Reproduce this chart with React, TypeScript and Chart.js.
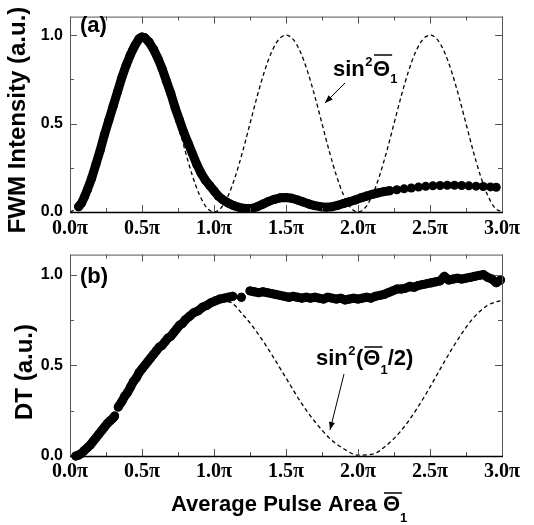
import { useEffect, useRef } from 'react';
import { Chart, registerables } from 'chart.js';

Chart.register(...registerables);

// ---------- axis ticks ----------
const X_TICKS = [0, 0.5, 1, 1.5, 2, 2.5, 3];
const X_MINOR = [0.25, 0.75, 1.25, 1.75, 2.25, 2.75];
const Y_TICKS = [0, 0.5, 1];
const Y_MINOR = [0.25, 0.75];

// ---------- panel (a): theory sin^2(theta) ----------
const THEORY_A_X = [
  0, 0.05, 0.1, 0.15, 0.2, 0.25, 0.3, 0.35, 0.4, 0.45,
  0.5, 0.55, 0.6, 0.65, 0.7, 0.75, 0.8, 0.85, 0.9, 0.95,
  1.0, 1.05, 1.1, 1.15, 1.2, 1.25, 1.3, 1.35, 1.4, 1.45,
  1.5, 1.55, 1.6, 1.65, 1.7, 1.75, 1.8, 1.85, 1.9, 1.95,
  2.0, 2.05, 2.1, 2.15, 2.2, 2.25, 2.3, 2.35, 2.4, 2.45,
  2.5, 2.55, 2.6, 2.65, 2.7, 2.75, 2.8, 2.85, 2.9, 2.95,
  3.0,
];
const THEORY_A_Y = [
  0, 0.024, 0.095, 0.206, 0.345, 0.5, 0.655, 0.794, 0.905, 0.976,
  1, 0.976, 0.905, 0.794, 0.655, 0.5, 0.345, 0.206, 0.095, 0.024,
  0, 0.024, 0.095, 0.206, 0.345, 0.5, 0.655, 0.794, 0.905, 0.976,
  1, 0.976, 0.905, 0.794, 0.655, 0.5, 0.345, 0.206, 0.095, 0.024,
  0, 0.024, 0.095, 0.206, 0.345, 0.5, 0.655, 0.794, 0.905, 0.976,
  1, 0.976, 0.905, 0.794, 0.655, 0.5, 0.345, 0.206, 0.095, 0.024,
  0,
];

// ---------- panel (a): measured FWM intensity ----------
const FWM_X = [
  0.06, 0.08, 0.10, 0.12, 0.15, 0.18, 0.21, 0.24, 0.27, 0.30,
  0.33, 0.36, 0.39, 0.42, 0.45, 0.48, 0.50, 0.52, 0.55, 0.58,
  0.61, 0.64, 0.67, 0.70, 0.73, 0.76, 0.79, 0.82, 0.85, 0.88,
  0.91, 0.94, 0.97, 1.00, 1.03, 1.06, 1.10, 1.14, 1.18, 1.22,
  1.26, 1.30, 1.34, 1.38, 1.42, 1.46, 1.50, 1.54, 1.58, 1.62,
  1.66, 1.70, 1.74, 1.78, 1.82, 1.86, 1.90, 1.94, 1.98, 2.02,
  2.06, 2.10, 2.14, 2.18, 2.22, 2.27, 2.32, 2.37, 2.42, 2.47,
  2.52, 2.57, 2.62, 2.67, 2.72, 2.77, 2.82, 2.87, 2.92, 2.96,
];
const FWM_Y = [
  0.03, 0.05, 0.085, 0.125, 0.19, 0.27, 0.35, 0.44, 0.52, 0.60,
  0.68, 0.76, 0.83, 0.89, 0.94, 0.98, 0.99, 0.985, 0.96, 0.92,
  0.87, 0.81, 0.74, 0.67, 0.59, 0.52, 0.45, 0.39, 0.33, 0.27,
  0.22, 0.18, 0.15, 0.12, 0.09, 0.07, 0.05, 0.035, 0.025, 0.02,
  0.02, 0.03, 0.045, 0.06, 0.072, 0.08, 0.082, 0.078, 0.068, 0.056,
  0.045, 0.036, 0.03, 0.027, 0.03, 0.038, 0.048, 0.058, 0.068, 0.08,
  0.09, 0.10, 0.108, 0.115, 0.12, 0.126, 0.131, 0.136, 0.141, 0.145,
  0.148, 0.15, 0.151, 0.151, 0.15, 0.148, 0.146, 0.144, 0.142, 0.14,
];

// ---------- panel (b): theory sin^2(theta/2) ----------
const THEORY_B_X = [
  0, 0.1, 0.2, 0.3, 0.4, 0.5, 0.6, 0.7, 0.8, 0.9,
  1.0, 1.1, 1.2, 1.3, 1.4, 1.5, 1.6, 1.7, 1.8, 1.9,
  2.0, 2.1, 2.2, 2.3, 2.4, 2.5, 2.6, 2.7, 2.8, 2.9,
  3.0,
];
const THEORY_B_Y = [
  0, 0.02, 0.10, 0.20, 0.32, 0.46, 0.58, 0.68, 0.76, 0.82,
  0.85, 0.85, 0.78, 0.68, 0.56, 0.43, 0.30, 0.19, 0.10, 0.04,
  0.005, 0.01, 0.06, 0.14, 0.25, 0.38, 0.52, 0.65, 0.76, 0.83,
  0.86,
];

// ---------- panel (b): measured DT ----------
const DT_X = [
  0.04, 0.06, 0.08, 0.10, 0.12, 0.14, 0.16, 0.18, 0.20, 0.22,
  0.24, 0.26, 0.28, 0.30, 0.31, 0.32, 0.335, 0.36, 0.38, 0.40,
  0.42, 0.44, 0.46, 0.48, 0.50, 0.52, 0.54, 0.56, 0.58, 0.60,
  0.62, 0.64, 0.66, 0.68, 0.70, 0.72, 0.74, 0.76, 0.78, 0.80,
  0.83, 0.86, 0.89, 0.92, 0.95, 0.98, 1.01, 1.04, 1.07, 1.10,
  1.13, 1.16, 1.19, 1.22, 1.25, 1.28, 1.31, 1.34, 1.37, 1.40,
  1.43, 1.46, 1.49, 1.52, 1.55, 1.58, 1.61, 1.64, 1.67, 1.70,
  1.73, 1.76, 1.79, 1.82, 1.85, 1.88, 1.91, 1.94, 1.97, 2.00,
  2.03, 2.06, 2.09, 2.12, 2.15, 2.18, 2.21, 2.24, 2.27, 2.30,
  2.33, 2.36, 2.39, 2.42, 2.45, 2.48, 2.51, 2.54, 2.57, 2.60,
  2.63, 2.66, 2.69, 2.72, 2.75, 2.78, 2.81, 2.84, 2.87, 2.90,
  2.93, 2.96, 2.99,
];
const DT_Y = [
  0.0, 0.005, 0.015, 0.03, 0.045, 0.06, 0.08, 0.10, 0.12, 0.14,
  0.16, 0.18, 0.195, 0.21, 0.22, null, 0.27, 0.30, 0.33, 0.35,
  0.38, 0.41, 0.43, 0.46, 0.48, 0.50, 0.52, 0.54, 0.56, 0.58,
  0.60, 0.61, 0.63, 0.65, 0.66, 0.68, 0.70, 0.72, 0.73, 0.75,
  0.77, 0.79, 0.80, 0.82, 0.83, 0.845, 0.855, 0.865, 0.87, 0.875,
  0.88, null, 0.875, null, 0.91, 0.905, 0.90, 0.905, 0.90, 0.895,
  0.89, 0.885, 0.88, 0.875, 0.88, 0.875, 0.87, 0.875, 0.87, 0.875,
  0.87, 0.865, 0.875, 0.87, 0.865, 0.87, 0.86, 0.865, 0.87, 0.865,
  0.87, 0.875, 0.87, 0.88, 0.885, 0.89, 0.90, 0.91, 0.92, 0.92,
  0.925, 0.935, 0.93, 0.94, 0.945, 0.95, 0.955, 0.96, 0.965, 0.99,
  0.97, 0.975, 0.98, 0.975, 0.98, 0.985, 0.99, 0.995, 1.0, 0.985,
  0.975, 0.955, 0.97,
];

const SANS = '"Liberation Sans", Arial, sans-serif';
const SERIF = '"Liberation Serif", "Times New Roman", serif';

const pts = (xs: number[], ys: (number | null)[]) => xs.map((x, i) => ({ x, y: ys[i] }));

function arrow(ctx: CanvasRenderingContext2D, x1: number, y1: number, x2: number, y2: number) {
  ctx.beginPath();
  ctx.moveTo(x1, y1);
  ctx.lineTo(x2, y2);
  ctx.lineWidth = 1;
  ctx.strokeStyle = '#000';
  ctx.stroke();
  const a = Math.atan2(y2 - y1, x2 - x1);
  const L = 8, W = 3;
  ctx.beginPath();
  ctx.moveTo(x2, y2);
  ctx.lineTo(x2 - L * Math.cos(a) + W * Math.sin(a), y2 - L * Math.sin(a) - W * Math.cos(a));
  ctx.lineTo(x2 - L * Math.cos(a) - W * Math.sin(a), y2 - L * Math.sin(a) + W * Math.cos(a));
  ctx.closePath();
  ctx.fillStyle = '#000';
  ctx.fill();
}

// draws overlined Theta with subscript 1, returns x after
function theta1(ctx: CanvasRenderingContext2D, x: number, base: number, size: number, subSize: number, subDy: number, barDy: number) {
  ctx.font = `bold ${size}px ${SANS}`;
  ctx.fillText('Θ', x, base);
  const w = ctx.measureText('Θ').width;
  ctx.font = `bold ${subSize}px ${SANS}`;
  ctx.fillText('1', x + w, base + subDy);
  const sw = ctx.measureText('1').width;
  ctx.beginPath();
  ctx.moveTo(x + 1, base - barDy);
  ctx.lineTo(x + w + 2, base - barDy);
  ctx.lineWidth = 1.5;
  ctx.strokeStyle = '#000';
  ctx.stroke();
  return x + w + sw;
}

function makeDecor(draw: (ctx: CanvasRenderingContext2D) => void) {
  return {
    id: 'decor',
    afterDraw(chart: any) {
      const { ctx, chartArea, scales } = chart;
      const { left, right, top, bottom } = chartArea;
      const xs = scales.x, ys = scales.y;
      ctx.save();
      ctx.strokeStyle = '#555';
      ctx.lineWidth = 1;
      ctx.strokeRect(left + 0.5, top + 0.5, right - left, bottom - top);
      ctx.beginPath();
      const xt = (vals: number[], len: number) => vals.forEach((v) => {
        const p = Math.round(xs.getPixelForValue(v)) + 0.5;
        ctx.moveTo(p, bottom); ctx.lineTo(p, bottom - len);
        ctx.moveTo(p, top); ctx.lineTo(p, top + len);
      });
      const yt = (vals: number[], len: number) => vals.forEach((v) => {
        const p = Math.round(ys.getPixelForValue(v)) + 0.5;
        ctx.moveTo(left, p); ctx.lineTo(left + len, p);
        ctx.moveTo(right, p); ctx.lineTo(right - len, p);
      });
      xt(X_TICKS, 7); xt(X_MINOR, 4); yt(Y_TICKS, 7); yt(Y_MINOR, 4);
      ctx.stroke();
      ctx.beginPath();
      ctx.strokeStyle = '#000';
      ctx.lineWidth = 1.5;
      ctx.moveTo(left, bottom + 0.5); ctx.lineTo(right + 1, bottom + 0.5);
      ctx.stroke();
      ctx.fillStyle = '#000';
      ctx.textAlign = 'left';
      ctx.textBaseline = 'alphabetic';
      draw(ctx);
      ctx.restore();
    },
  };
}

function baseOptions(yMax: number, padTop: number, xHeight: number, labelPad: number) {
  return {
    responsive: false,
    animation: false as const,
    events: [] as any[],
    layout: { padding: { left: 0, right: 32, top: padTop, bottom: 0 } },
    plugins: { legend: { display: false }, tooltip: { enabled: false } },
    scales: {
      x: {
        type: 'linear' as const,
        min: 0,
        max: 3,
        afterBuildTicks: (s: any) => { s.ticks = X_TICKS.map((v) => ({ value: v })); },
        afterFit: (s: any) => { s.height = xHeight; },
        grid: { display: false, drawTicks: false },
        border: { display: false },
        ticks: {
          callback: (v: any) => `${Number(v).toFixed(1)}π`,
          font: { family: SERIF, weight: 'bold' as const, size: 20 },
          color: '#000',
          padding: labelPad,
          maxRotation: 0,
          autoSkip: false,
        },
      },
      y: {
        type: 'linear' as const,
        min: 0,
        max: yMax,
        afterBuildTicks: (s: any) => { s.ticks = Y_TICKS.map((v) => ({ value: v })); },
        afterFit: (s: any) => { s.width = 70; },
        grid: { display: false, drawTicks: false },
        border: { display: false },
        ticks: {
          callback: (v: any) => Number(v).toFixed(1),
          font: { family: SANS, weight: 'bold' as const, size: 16 },
          color: '#000',
          padding: 7,
        },
      },
    },
  };
}

export default function App() {
  const topRef = useRef<HTMLCanvasElement>(null);
  const botRef = useRef<HTMLCanvasElement>(null);

  useEffect(() => {
    const decorTop = makeDecor((ctx) => {
      ctx.font = `bold 22px ${SANS}`;
      ctx.fillText('(a)', 80, 32);
      // y title
      ctx.save();
      ctx.translate(25, 120);
      ctx.rotate(-Math.PI / 2);
      ctx.textAlign = 'center';
      ctx.font = `bold 24px ${SANS}`;
      ctx.fillText('FWM Intensity (a.u.)', 0, 0);
      ctx.restore();
      // annotation
      ctx.font = `bold 22px ${SANS}`;
      ctx.fillText('sin', 333, 76);
      let x = 333 + ctx.measureText('sin').width + 0.5;
      ctx.font = `bold 13px ${SANS}`;
      ctx.fillText('2', x, 66);
      x += ctx.measureText('2').width + 0.5;
      theta1(ctx, x, 76, 22, 13, 7, 21);
      arrow(ctx, 345, 83, 325, 103);
    });

    const decorBot = makeDecor((ctx) => {
      ctx.font = `bold 22px ${SANS}`;
      ctx.fillText('(b)', 80, 45);
      ctx.save();
      ctx.translate(32, 134);
      ctx.rotate(-Math.PI / 2);
      ctx.textAlign = 'center';
      ctx.font = `bold 24px ${SANS}`;
      ctx.fillText('DT (a.u.)', 0, 0);
      ctx.restore();
      // annotation sin^2(theta/2)
      const b = 127;
      ctx.font = `bold 22px ${SANS}`;
      ctx.fillText('sin', 316, b);
      let x = 316 + ctx.measureText('sin').width + 0.5;
      ctx.font = `bold 13px ${SANS}`;
      ctx.fillText('2', x, b - 10);
      x += ctx.measureText('2').width + 0.5;
      ctx.font = `bold 22px ${SANS}`;
      ctx.fillText('(', x, b);
      x += ctx.measureText('(').width;
      x = theta1(ctx, x, b, 22, 13, 9, 18);
      ctx.font = `bold 22px ${SANS}`;
      ctx.fillText('/2)', x, b);
      arrow(ctx, 344, 136, 330, 192);
      // x title
      const tb = 273;
      ctx.font = `bold 22px ${SANS}`;
      ctx.fillText('Average Pulse Area ', 171, tb);
      const tx = 171 + ctx.measureText('Average Pulse Area ').width;
      theta1(ctx, tx, tb, 22, 13, 11, 18);
    });

    const top = new Chart(topRef.current as HTMLCanvasElement, {
      type: 'scatter',
      data: {
        datasets: [
          {
            data: pts(FWM_X, FWM_Y),
            showLine: true,
            borderColor: '#000',
            borderWidth: 9,
            borderCapStyle: 'round',
            borderJoinStyle: 'round',
            pointRadius: 4.5,
            pointBackgroundColor: '#000',
            pointBorderWidth: 0,
            segment: { borderColor: (c: any) => (c.p0.parsed.x >= 2.2 ? 'rgba(0,0,0,0)' : '#000') },
            order: 0,
            clip: 8,
          } as any,
          {
            data: pts(THEORY_A_X, THEORY_A_Y),
            showLine: true,
            borderColor: '#000',
            borderWidth: 1.3,
            borderDash: [4, 3],
            pointRadius: 0,
            cubicInterpolationMode: 'monotone',
            order: 1,
          } as any,
        ],
      },
      options: baseOptions(1.105, 5, 26, 5) as any,
      plugins: [decorTop],
    });

    const bot = new Chart(botRef.current as HTMLCanvasElement, {
      type: 'scatter',
      data: {
        datasets: [
          {
            data: pts(DT_X, DT_Y),
            showLine: true,
            spanGaps: false,
            borderColor: '#000',
            borderWidth: 9,
            borderCapStyle: 'round',
            borderJoinStyle: 'round',
            pointRadius: 4.5,
            pointBackgroundColor: '#000',
            pointBorderWidth: 0,
            order: 0,
            clip: 8,
          } as any,
          {
            data: pts(THEORY_B_X, THEORY_B_Y),
            showLine: true,
            borderColor: '#000',
            borderWidth: 1.3,
            borderDash: [4, 3],
            pointRadius: 0,
            cubicInterpolationMode: 'monotone',
            order: 1,
          } as any,
        ],
      },
      options: baseOptions(1.11, 10, 69, 4) as any,
      plugins: [decorBot],
    });

    return () => {
      top.destroy();
      bot.destroy();
    };
  }, []);

  return (
    <div style={{ position: 'absolute', left: 0, top: 0, width: 534, height: 525, background: '#fff' }}>
      <canvas ref={topRef} width={534} height={238} style={{ position: 'absolute', left: 0, top: 0 }} />
      <canvas ref={botRef} width={534} height={287} style={{ position: 'absolute', left: 0, top: 238 }} />
    </div>
  );
}
